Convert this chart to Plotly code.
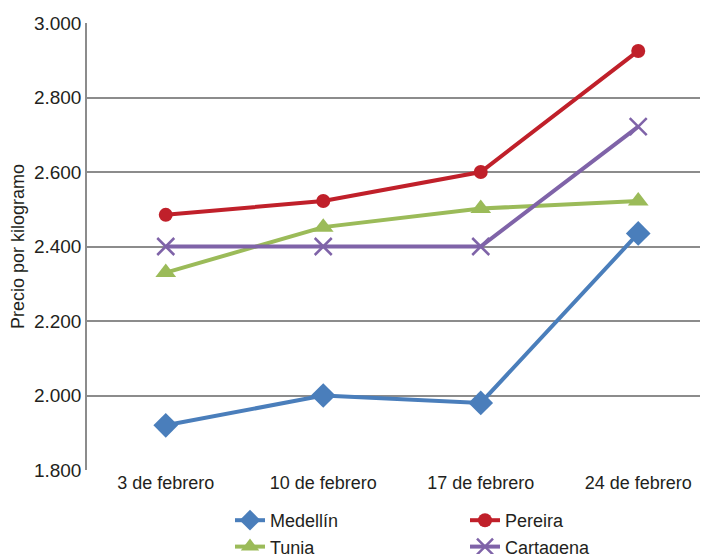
import plotly.graph_objects as go

categories = ["3 de febrero", "10 de febrero", "17 de febrero", "24 de febrero"]
medellin = [1920, 2000, 1980, 2435]
pereira = [2485, 2522, 2600, 2925]
tunja = [2330, 2452, 2502, 2522]
cartagena = [2400, 2400, 2400, 2722]
y_ticks = [1800, 2000, 2200, 2400, 2600, 2800, 3000]

FONT = "Liberation Sans, Arial, sans-serif"

fig = go.Figure()
fig.add_trace(go.Scatter(x=categories, y=medellin, name="Medellín", mode="lines+markers",
                         line=dict(color="#4A7EBB", width=4),
                         marker=dict(symbol="diamond", size=19, color="#4A7EBB"),
                         legend="legend"))
fig.add_trace(go.Scatter(x=categories, y=tunja, name="Tunja", mode="lines+markers",
                         line=dict(color="#9BBB59", width=4),
                         marker=dict(symbol="triangle-up", size=18, color="#9BBB59"),
                         legend="legend"))
fig.add_trace(go.Scatter(x=categories, y=cartagena, name="Cartagena", mode="lines+markers",
                         line=dict(color="#7F63A8", width=4),
                         marker=dict(symbol="x-thin-open", size=17, color="#7F63A8",
                                     line=dict(color="#7F63A8", width=2.5)),
                         legend="legend2"))
fig.add_trace(go.Scatter(x=categories, y=pereira, name="Pereira", mode="lines+markers",
                         line=dict(color="#C0202A", width=4),
                         marker=dict(symbol="circle", size=14, color="#C0202A"),
                         legend="legend2"))

# page body has an 8px margin: figure occupies screen x 8..708, y 8..554
fig.update_layout(
    width=700, height=546,
    margin=dict(l=79, r=0, t=15, b=84, autoexpand=False),
    paper_bgcolor="white", plot_bgcolor="white",
    separators=",.",
    font=dict(family=FONT, size=18, color="#231F20"),
    showlegend=True,
    legend=dict(x=143 / 621, y=-32 / 447, xanchor="left", yanchor="top",
                orientation="v", font=dict(size=18), tracegroupgap=0,
                bgcolor="rgba(0,0,0,0)"),
    legend2=dict(x=378 / 621, y=-32 / 447, xanchor="left", yanchor="top",
                 orientation="v", font=dict(size=18), tracegroupgap=0,
                 traceorder="reversed", bgcolor="rgba(0,0,0,0)"),
    xaxis=dict(type="category", range=[-0.5, 3.443], showgrid=False, automargin=False,
               showline=False, ticks="", tickfont=dict(size=18)),
    yaxis=dict(range=[1800, 3000], tickvals=y_ticks, tickformat=",d", automargin=False,
               showgrid=True, gridcolor="#8C8C8C", gridwidth=1.5,
               showline=True, linecolor="#8C8C8C", linewidth=1.5,
               zeroline=False, ticks="", tickfont=dict(size=19),
               title=dict(text="Precio por kilogramo", font=dict(size=18), standoff=8)),
)

fig.write_html("out.html")
